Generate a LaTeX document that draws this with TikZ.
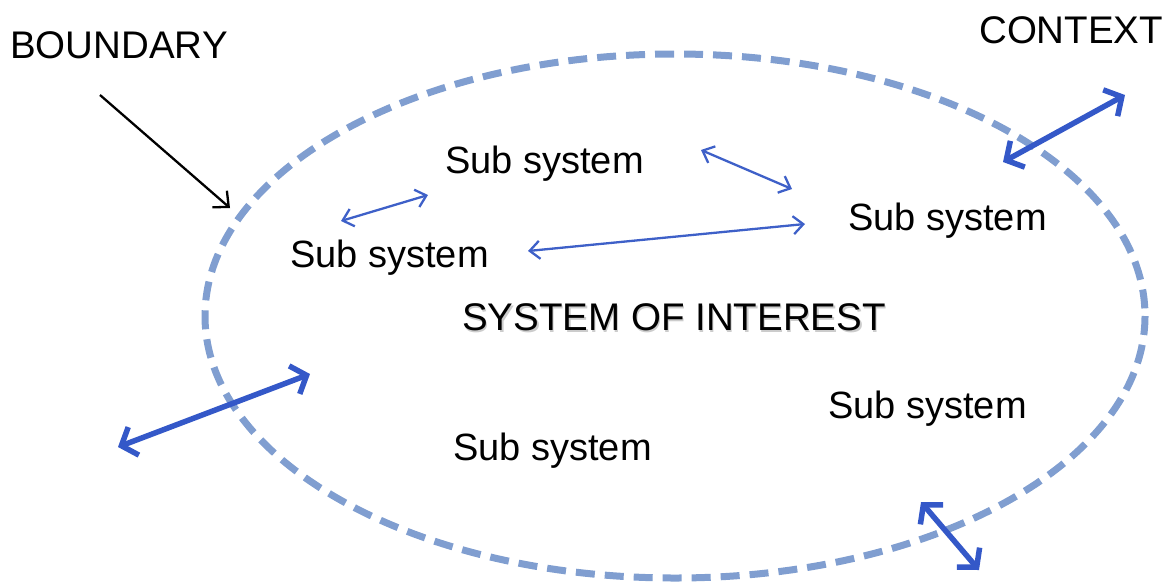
\documentclass[tikz,border=0pt]{standalone}
\usepackage{fontspec}
\setmainfont{Liberation Sans}
\usetikzlibrary{arrows.meta}
\definecolor{rim}{RGB}{128,158,208}
\definecolor{linkblue}{RGB}{62,96,200}
\definecolor{flowblue}{RGB}{52,88,200}
% text with a soft grey drop shadow
\newcommand{\shadowtext}[1]{\makebox[0pt][l]{\hspace{1.5pt}\raisebox{-2.5pt}{\color{black!20}#1}}#1}
\begin{document}
\begin{tikzpicture}[x=1pt,y=-1pt,
  label/.style={inner sep=0pt,anchor=base west,font=\fontsize{38.5}{44}\selectfont},
  sublabel/.style={inner sep=0pt,anchor=base west,font=\fontsize{38}{44}\selectfont},
  boundary/.style={draw=rim,line width=7pt,dash pattern=on 19pt off 10pt},
  pointer/.style={draw=black,line width=2.3pt,-{Straight Barb[length=12pt,width=22pt]}},
  link/.style={draw=linkblue,line width=2.3pt,{Straight Barb[length=10pt,width=18pt]}-{Straight Barb[length=10pt,width=18pt]}},
  flow/.style={draw=flowblue,line width=5.5pt,{Straight Barb[length=13pt,width=30pt]}-{Straight Barb[length=13pt,width=30pt]}}]
\useasboundingbox (0,0) rectangle (1169,582);

% dashed system boundary
\draw[boundary] (675,316) ellipse [x radius=470, y radius=262];

% titles
\node[label] (boundarytxt) at (10,58) {BOUNDARY};
\node[label] (contexttxt) at (979,43) {CONTEXT};
\node[label] (soi) at (462,330) {\shadowtext{SYSTEM OF INTEREST}};

% sub systems
\node[sublabel] (subA) at (445,173) {Sub system};
\node[sublabel] (subB) at (290,267) {Sub system};
\node[sublabel] (subC) at (848,230) {Sub system};
\node[sublabel] (subD) at (828,418) {Sub system};
\node[sublabel] (subE) at (453,460) {Sub system};

% connector end points
\coordinate (bdA) at (100,95);
\coordinate (bdB) at (230,208);
\coordinate (abA) at (341,221);
\coordinate (abB) at (428,195);
\coordinate (acA) at (701,150);
\coordinate (acB) at (792,189);
\coordinate (bcA) at (528,251);
\coordinate (bcB) at (805,224);
\coordinate (cxA) at (1003,162);
\coordinate (cxB) at (1125,95);
\coordinate (lfA) at (118,447);
\coordinate (lfB) at (310,374);
\coordinate (btA) at (921,502);
\coordinate (btB) at (979,570);

% pointer to the boundary
\draw[pointer] (bdA) -- (bdB);

% links between sub systems
\draw[link] (abA) -- (abB);
\draw[link] (acA) -- (acB);
\draw[link] (bcA) -- (bcB);

% exchanges across the boundary
\draw[flow] (cxA) -- (cxB);
\draw[flow] (lfA) -- (lfB);
\draw[flow] (btA) -- (btB);
\end{tikzpicture}
\end{document}
